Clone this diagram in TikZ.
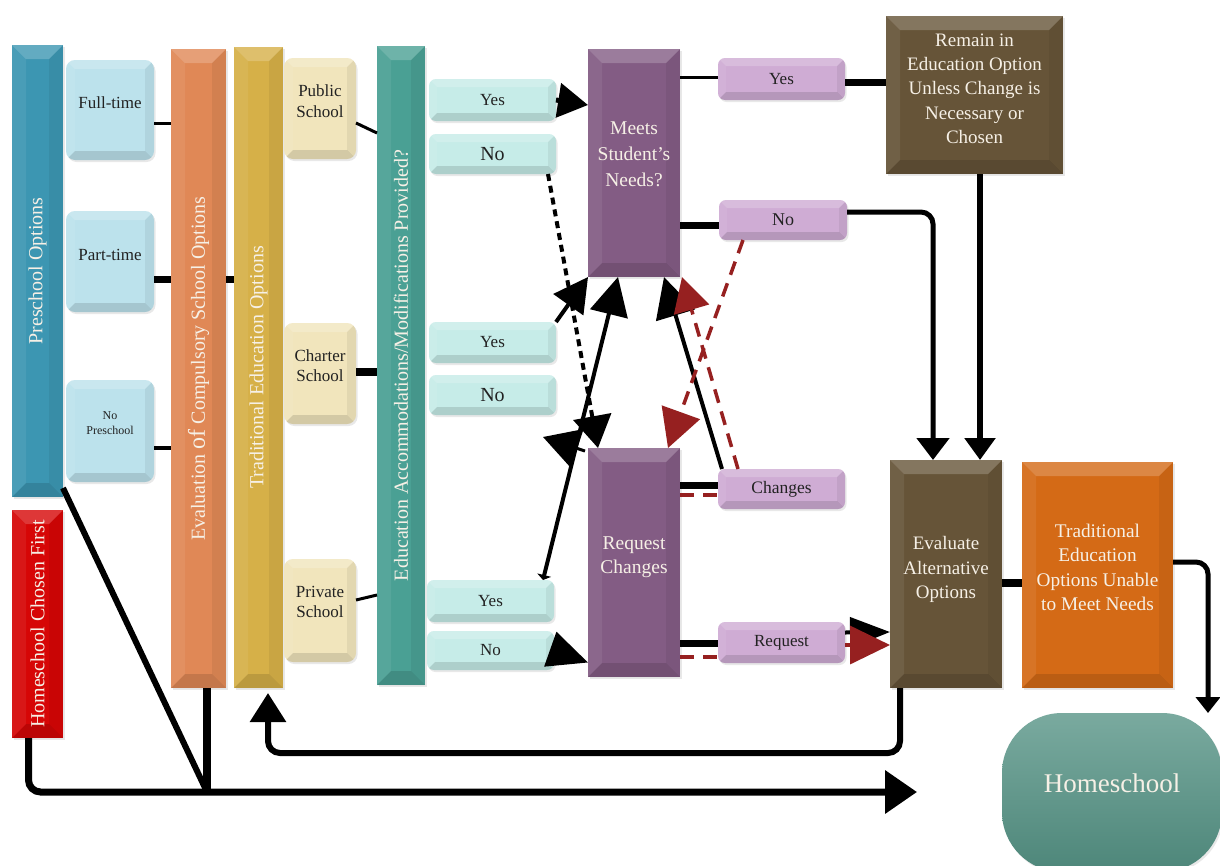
\documentclass[tikz,border=0pt]{standalone}
\usepackage{fontspec}
\setmainfont{Liberation Serif}
\usetikzlibrary{arrows.meta,shadows}

\definecolor{cPre}{RGB}{60,150,178}
\definecolor{cLB}{RGB}{188,226,236}
\definecolor{cEval}{RGB}{224,136,86}
\definecolor{cTrad}{RGB}{214,176,72}
\definecolor{cCream}{RGB}{241,229,188}
\definecolor{cEdu}{RGB}{74,160,148}
\definecolor{cCyan}{RGB}{198,236,232}
\definecolor{cPurp}{RGB}{131,92,132}
\definecolor{cLil}{RGB}{207,172,212}
\definecolor{cBrown}{RGB}{102,84,56}
\definecolor{cOrng}{RGB}{212,106,22}
\definecolor{cHome}{RGB}{84,146,132}
\definecolor{cRed}{RGB}{214,6,6}
\definecolor{cDred}{RGB}{150,32,32}
\definecolor{cBarTxt}{RGB}{246,240,230}
\definecolor{cDark}{RGB}{34,34,34}

% box text raised above the box centre by the given amount (box size unchanged)
\newcommand\liftxt[2][7pt]{\raisebox{#1}[\height][\depth]{\begin{tabular}{@{}c@{}}#2\end{tabular}}}
\newcommand\liftone[2][7pt]{\raisebox{#1}[\height][\depth]{#2}}

\tikzset{
  bevel/.style={path picture={
    \def\ppb{path picture bounding box}
    \fill[sharp corners,white,opacity=.20] (\ppb.north west) -- (\ppb.north east)
      -- ([xshift=-#1,yshift=-#1]\ppb.north east) -- ([xshift=#1,yshift=-#1]\ppb.north west) -- cycle;
    \fill[sharp corners,white,opacity=.07] (\ppb.north west) -- (\ppb.south west)
      -- ([xshift=#1,yshift=#1]\ppb.south west) -- ([xshift=#1,yshift=-#1]\ppb.north west) -- cycle;
    \fill[sharp corners,black,opacity=.12] (\ppb.south west) -- (\ppb.south east)
      -- ([xshift=-#1,yshift=#1]\ppb.south east) -- ([xshift=#1,yshift=#1]\ppb.south west) -- cycle;
    \fill[sharp corners,black,opacity=.06] (\ppb.north east) -- (\ppb.south east)
      -- ([xshift=-#1,yshift=#1]\ppb.south east) -- ([xshift=-#1,yshift=-#1]\ppb.north east) -- cycle;
  }},
  bevel/.default=12pt,
  shade box/.style={drop shadow={opacity=.18,shadow xshift=1.5pt,shadow yshift=-2pt}},
  bar/.style={inner sep=0pt, outer sep=0pt, bevel=14pt, shade box},
  barlabel/.style={rotate=90, text=cBarTxt, font=\fontsize{20}{22}\selectfont},
  lbox/.style={rounded corners=9pt, inner sep=0pt, outer sep=0pt, bevel=9pt, shade box,
    text=cDark, align=center, font=\fontsize{17}{20.5}\selectfont},
  dbox/.style={inner sep=0pt, outer sep=0pt, bevel=14pt, shade box, text=cBarTxt,
    font=\fontsize{19.5}{24.5}\selectfont},
  ln/.style={line width=#1, draw=black},
  rdash/.style={line width=3.5pt, draw=cDred, dash pattern=on 14pt off 9pt},
}

\begin{document}
\begin{tikzpicture}[x=1pt,y=-1pt]
\useasboundingbox (0,0) rectangle (1220,865);
\clip (0,0) rectangle (1220,865);
\fill[white] (0,0) rectangle (1220,865);

% ---- left column bars ----
\node[bar, fill=cPre, minimum width=51pt, minimum height=452pt,
      label={[barlabel]center:Preschool Options}] (pre) at (37.5,271) {};
\node[bar, fill=cRed, minimum width=51pt, minimum height=228pt,
      label={[barlabel]center:Homeschool Chosen First}] (hcf) at (37.5,624) {};

\node[lbox, fill=cLB, minimum width=88pt, minimum height=100pt] (ft) at (110,110) {\liftone[7pt]{Full-time}};
\node[lbox, fill=cLB, minimum width=88pt, minimum height=101pt] (pt) at (110,261.5) {\liftone[6.5pt]{Part-time}};
\node[lbox, fill=cLB, minimum width=88pt, minimum height=102pt,
      font=\fontsize{12}{15}\selectfont] (np) at (110,431) {\liftxt[7pt]{No\\Preschool}};

\node[bar, fill=cEval, minimum width=55pt, minimum height=639pt,
      label={[barlabel]center:Evaluation {\fontsize{24}{24}\selectfont of} Compulsory School Options}] (eval) at (198.5,368.5) {};
\node[bar, fill=cTrad, minimum width=49pt, minimum height=641pt,
      label={[barlabel]center:Traditional Education Options}] (trad) at (258.5,367.5) {};

\node[lbox, fill=cCream, minimum width=72pt, minimum height=101pt] (pub) at (320,108.5) {\liftxt[5.5pt]{Public\\School}};
\node[lbox, fill=cCream, minimum width=72pt, minimum height=101pt] (char) at (320,373.5) {\liftxt[6pt]{Charter\\School}};
\node[lbox, fill=cCream, minimum width=72pt, minimum height=103pt] (priv) at (320,610.5) {\liftxt[7pt]{Private\\School}};

\node[bar, fill=cEdu, minimum width=48pt, minimum height=639pt,
      label={[barlabel]center:Education Accommodations/Modifications Provided?}] (edu) at (401,365.5) {};

% ---- yes / no answers ----
\node[lbox, fill=cCyan, minimum width=127pt, minimum height=42pt, rounded corners=7pt, bevel=8pt] (yes1) at (492.5,100) {Yes};
\node[lbox, fill=cCyan, minimum width=127pt, minimum height=40pt, rounded corners=7pt, bevel=8pt,
      font=\fontsize{20}{22}\selectfont] (no1) at (492.5,154) {No};
\node[lbox, fill=cCyan, minimum width=127pt, minimum height=41pt, rounded corners=7pt, bevel=8pt] (yes2) at (492.5,342.5) {Yes};
\node[lbox, fill=cCyan, minimum width=127pt, minimum height=40pt, rounded corners=7pt, bevel=8pt,
      font=\fontsize{20}{22}\selectfont] (no2) at (492.5,395) {No};
\node[lbox, fill=cCyan, minimum width=127pt, minimum height=42pt, rounded corners=7pt, bevel=8pt] (yes3) at (490.5,601) {Yes};
\node[lbox, fill=cCyan, minimum width=127pt, minimum height=39pt, rounded corners=7pt, bevel=8pt] (no3) at (490.5,650.5) {No};

% ---- decision boxes ----
\node[dbox, fill=cPurp, minimum width=92pt, minimum height=228pt, font=\fontsize{19.5}{26}\selectfont] (meets) at (634,163)
  {\liftxt[8pt]{Meets\\Student’s\\Needs?}};
\node[dbox, fill=cPurp, minimum width=92pt, minimum height=229pt] (reqch) at (634,562.5) {\liftxt[6pt]{Request\\Changes}};

\node[lbox, fill=cLil, minimum width=127pt, minimum height=42pt, rounded corners=7pt, bevel=8pt] (yesR) at (781.5,79) {Yes};
\node[lbox, fill=cLil, minimum width=128pt, minimum height=40pt, rounded corners=7pt, bevel=8pt,
      font=\fontsize{18}{20}\selectfont] (noR) at (783,220) {No};
\node[lbox, fill=cLil, minimum width=127pt, minimum height=40pt, rounded corners=7pt, bevel=8pt,
      font=\fontsize{17.5}{20}\selectfont] (chg) at (781.5,489) {Changes};
\node[lbox, fill=cLil, minimum width=127pt, minimum height=41pt, rounded corners=7pt, bevel=8pt] (reqB) at (781.5,642.5) {Request};

\node[dbox, fill=cBrown, minimum width=177pt, minimum height=158pt, font=\fontsize{19}{24.4}\selectfont] (remain) at (974.5,95)
  {\liftxt[5pt]{Remain in\\Education Option\\Unless Change is\\Necessary or\\Chosen}};
\node[dbox, fill=cBrown, minimum width=112pt, minimum height=228pt, font=\fontsize{19}{24.5}\selectfont] (ea) at (946,574)
  {\liftxt[4.5pt]{Evaluate\\Alternative\\Options}};
\node[dbox, fill=cOrng, minimum width=151pt, minimum height=226pt, font=\fontsize{19.3}{24.3}\selectfont] (unable) at (1097.5,575)
  {\liftxt[6pt]{Traditional\\Education\\Options Unable\\to Meet Needs}};
\node[inner sep=0pt, outer sep=0pt, rounded corners=60pt, minimum width=220pt, minimum height=159pt,
      top color=cHome!78!white, bottom color=cHome!92!black, shade box, text=cBarTxt,
      font=\fontsize{27}{30}\selectfont] (hs) at (1112,792.5) {\liftone[9.5pt]{Homeschool}};

% ---- connectors, left part ----
\draw[ln=3pt] ([yshift=-13pt]ft.east) -- ([yshift=245.5pt]eval.west);
\draw[ln=7pt] ([yshift=-17.5pt]pt.east) -- ([yshift=89.5pt]eval.west);
\draw[ln=7pt] ([yshift=89.5pt]eval.east) -- ([yshift=88.5pt]trad.west);
\draw[ln=4pt] ([yshift=-17pt]np.east) -- ([yshift=-79.5pt]eval.west);
\draw[ln=3pt] ([yshift=-14.5pt]pub.east) -- ([yshift=232.5pt]edu.west);
\draw[ln=8pt] ([yshift=1.5pt]char.east) -- ([yshift=-6.5pt]edu.west);
\draw[ln=3pt] ([yshift=10.5pt]priv.east) -- ([yshift=-229.5pt]edu.west);

% bottom return lines
\path ([xshift=8.5pt]eval.south) coordinate (evb);
\coordinate (hsend) at (917,792);
\coordinate (J) at (evb |- hsend);
\draw[ln=8pt] (evb) -- (J);
\draw[ln=6pt] ([yshift=9pt]pre.south east) -- (J);
\draw[ln=7pt, rounded corners=12pt, -{Triangle[length=32pt,width=42pt]}]
  ([xshift=-9pt]hcf.south) |- (hsend);
\draw[ln=6pt, rounded corners=12pt, -{Triangle[length=29pt,width=35pt]}, shorten >=5pt]
  ([xshift=-46pt]ea.south) -- ++(0,65) -| ([xshift=9.5pt]trad.south);

% ---- connectors around the decision boxes ----
\draw[ln=5pt, -{Triangle[length=30pt,width=34pt]}] (yes1.east) -- ([yshift=58pt]meets.west);
\draw[ln=4pt, dash pattern=on 7pt off 5pt, -{Triangle[length=32pt,width=38pt]}]
  ([xshift=-8pt]no1.south east) -- ([xshift=10pt]reqch.north west);
\draw[ln=4pt, -{Triangle[length=34pt,width=36pt]}] (yes2.north east) -- (meets.south west);
\draw[ln=4pt, {Triangle[length=5pt,width=14pt]}-{Triangle[length=38pt,width=38pt]}]
  ([xshift=-11pt]yes3.north east) -- ([xshift=-16pt]meets.south);
\coordinate (reqtip) at (543,437);
\draw[ln=3pt, -{Triangle[length=36pt,width=40pt]}] ([xshift=-3pt,yshift=-3pt]reqch.north west) -- (reqtip);
\draw[ln=4pt, -{Triangle[length=40pt,width=40pt]}] ([xshift=4pt]chg.north west) -- ([xshift=-16pt]meets.south east);
\draw[rdash, -{Triangle[length=38pt,width=40pt,fill=cDred]}]
  ([xshift=-40pt]noR.south) -- ([xshift=-12pt]reqch.north east);
\draw[rdash, -{Triangle[length=34pt,width=36pt,fill=cDred]}]
  ([xshift=20pt]chg.north west) -- ([xshift=2pt]meets.south east);

\draw[ln=3pt] ([yshift=86pt]meets.east) -- ([yshift=2pt]yesR.west);
\draw[ln=7pt] ([yshift=-3pt]yesR.east) -- ([yshift=13pt]remain.west);
\draw[ln=7pt] ([yshift=-62pt]meets.east) -- ([yshift=-5pt]noR.west);
\draw[ln=5pt, rounded corners=12pt, -{Triangle[length=22pt,width=32pt]}]
  ([yshift=8pt]noR.east) -| ([xshift=-13pt]ea.north);
\draw[ln=6pt, -{Triangle[length=22pt,width=30pt]}] ([xshift=5.5pt]remain.south) -- ([xshift=34pt]ea.north);

\draw[ln=7pt] ([yshift=77.5pt]reqch.east) -- ([yshift=4pt]chg.west);
\draw[rdash] ([yshift=67.5pt]reqch.east) -- ([yshift=-6pt]chg.west);
\draw[ln=7pt] ([yshift=-80.5pt]reqch.east) -- ([yshift=-0.5pt]reqB.west);
\draw[rdash] ([yshift=-94.5pt]reqch.east) -- ([yshift=-14.5pt]reqB.west);
\draw[ln=4pt, -{Triangle[length=40pt,width=30pt]}] ([yshift=10pt]reqB.east) -- ([yshift=-58pt]ea.west);
\draw[rdash, -{Triangle[length=40pt,width=38pt,fill=cDred]}] ([yshift=-2.5pt]reqB.east) -- ([yshift=-71pt]ea.west);
\draw[ln=4pt, -{Triangle[length=40pt,width=36pt]}] (no3.east) -- ([yshift=-100pt]reqch.west);

\draw[ln=8pt] ([yshift=-9pt]ea.east) -- ([yshift=-8pt]unable.west);
\draw[ln=5pt, rounded corners=12pt, -{Triangle[length=16pt,width=24pt]}]
  ([yshift=13pt]unable.east) -| ([xshift=96pt]hs.north);
\end{tikzpicture}
\end{document}
